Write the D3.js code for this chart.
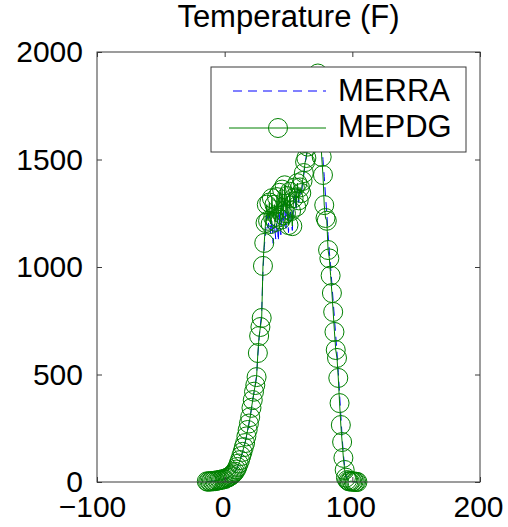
<!DOCTYPE html>
<html>
<head>
<meta charset="utf-8">
<script src="https://cdn.jsdelivr.net/npm/d3@7"></script>
<style>
  html, body { margin: 0; padding: 0; background: #fff; }
  svg { display: block; }
  text { font-family: "Liberation Sans", Arial, Helvetica, sans-serif; fill: #000; }
</style>
</head>
<body>
<svg id="chart" width="508" height="527"></svg>
<script>
// Temperature bins (°F)
const temps = d3.range(-14, 105);

// Hour counts per temperature bin, MEPDG climate file
const mepdg = [
  3, 1, 4, 2, 5, 3, 6, 4, 8, 7, 10, 9, 12, 14,            // -14 .. -1
  13, 17, 20, 22, 26, 30, 35, 41, 48, 58,                 // 0 .. 9
  70, 86, 102, 121, 140, 162, 181, 212, 242, 272,         // 10 .. 19
  302, 345, 381, 420, 451, 488, 600, 679, 721, 763,       // 20 .. 29
  1005, 1112, 1205, 1290, 1215, 1300, 1200, 1320, 1230, 1290, // 30 .. 39
  1210, 1325, 1230, 1345, 1220, 1360, 1240, 1380, 1250, 1330, // 40 .. 49
  1195, 1350, 1260, 1190, 1320, 1370, 1280, 1390, 1310, 1370, // 50 .. 59
  1344, 1400, 1437, 1488, 1507, 1560, 1620, 1680, 1740, 1790, // 60 .. 69
  1840, 1880, 1870, 1900, 1760, 1640, 1512, 1428, 1288, 1228, // 70 .. 79
  1215, 1079, 1040, 960, 879, 791, 698, 614, 577, 484,    // 80 .. 89
  367, 265, 186, 112, 56, 20, 9, 4, 2, 5,                 // 90 .. 99
  1, 3, 0, 1, 0                                           // 100 .. 104
];

// Hour counts per temperature bin, MERRA reanalysis
const merra = [
  2, 2, 3, 3, 4, 4, 5, 5, 7, 8, 9, 10, 11, 13,            // -14 .. -1
  14, 16, 19, 23, 25, 29, 34, 40, 47, 56,                 // 0 .. 9
  68, 84, 100, 118, 138, 160, 185, 208, 238, 270,         // 10 .. 19
  305, 340, 385, 415, 455, 495, 590, 670, 730, 790,       // 20 .. 29
  980, 1090, 1160, 1240, 1180, 1250, 1150, 1220, 1110, 1200, // 30 .. 39
  1130, 1240, 1120, 1260, 1150, 1290, 1200, 1310, 1180, 1280, // 40 .. 49
  1160, 1300, 1220, 1170, 1290, 1340, 1260, 1370, 1300, 1360, // 50 .. 59
  1330, 1390, 1430, 1480, 1520, 1570, 1630, 1690, 1740, 1790, // 60 .. 69
  1830, 1860, 1880, 1870, 1790, 1690, 1600, 1500, 1420, 1330, // 70 .. 79
  1250, 1150, 1070, 1000, 920, 840, 760, 680, 600, 510,   // 80 .. 89
  410, 310, 210, 130, 70, 30, 12, 5, 3, 2,                // 90 .. 99
  1, 1, 0, 0, 0                                           // 100 .. 104
];

const xTicks = [-100, 0, 100, 200];
const yTicks = [0, 500, 1000, 1500, 2000];
const seriesNames = ["MERRA", "MEPDG"];
const titleText = "Temperature (F)";

const svg = d3.select("#chart");
const box = { left: 97, right: 480, top: 52, bottom: 482 };
const fontSize = 30;
const frameColor = "#3a3a3a";
const green = "#008000";
const blue = "#0000ff";

const x = d3.scaleLinear().domain([-100, 200]).range([box.left, box.right]);
const y = d3.scaleLinear().domain([0, 2000]).range([box.bottom, box.top]);

const mepdgPts = temps.map((t, i) => [t, mepdg[i]]);
const merraPts = temps.map((t, i) => [t, merra[i]]);

const plot = svg.append("g");
const line = d3.line().x(d => x(d[0])).y(d => y(d[1]));

// MERRA: blue dashed line
plot.append("path")
  .datum(merraPts)
  .attr("d", line)
  .attr("fill", "none")
  .attr("stroke", blue)
  .attr("stroke-width", 1)
  .attr("stroke-dasharray", "9,6");

// MEPDG: green line with open circle markers
plot.append("path")
  .datum(mepdgPts)
  .attr("d", line)
  .attr("fill", "none")
  .attr("stroke", green)
  .attr("stroke-width", 1);

plot.append("g")
  .selectAll("circle")
  .data(mepdgPts)
  .join("circle")
  .attr("cx", d => x(d[0]))
  .attr("cy", d => y(d[1]))
  .attr("r", 9.5)
  .attr("fill", "none")
  .attr("stroke", green)
  .attr("stroke-width", 1);

// Frame box
svg.append("rect")
  .attr("x", box.left).attr("y", box.top)
  .attr("width", box.right - box.left).attr("height", box.bottom - box.top)
  .attr("fill", "none")
  .attr("stroke", frameColor)
  .attr("stroke-width", 1);

// Axes with inward ticks on all four sides
function styleAxis(g) {
  g.select(".domain").remove();
  g.selectAll(".tick line").attr("stroke", frameColor);
  g.selectAll(".tick text")
    .style("font-size", fontSize + "px")
    .style("font-family", '"Liberation Sans", Arial, sans-serif')
    .attr("fill", "#000");
}

svg.append("g")
  .attr("transform", `translate(0,${box.bottom})`)
  .call(d3.axisBottom(x).tickValues(xTicks).tickFormat(d3.format("d")).tickSize(-5).tickPadding(14))
  .call(styleAxis)
  .call(g => g.selectAll(".tick text").attr("dx", d => d < 0 ? -5 : -2));

svg.append("g")
  .attr("transform", `translate(${box.left},0)`)
  .call(d3.axisLeft(y).tickValues(yTicks).tickFormat(d3.format("d")).tickSize(-5).tickPadding(14))
  .call(styleAxis);

svg.append("g")
  .attr("transform", `translate(0,${box.top})`)
  .call(d3.axisTop(x).tickValues(xTicks).tickFormat("").tickSize(-5))
  .call(styleAxis);

svg.append("g")
  .attr("transform", `translate(${box.right},0)`)
  .call(d3.axisRight(y).tickValues(yTicks).tickFormat("").tickSize(-5))
  .call(styleAxis);

// Title
svg.append("text")
  .attr("x", (box.left + box.right) / 2)
  .attr("y", 27)
  .attr("text-anchor", "middle")
  .style("font-size", "31px")
  .text(titleText);

// Legend
const legend = svg.append("g");
legend.append("rect")
  .attr("x", 211).attr("y", 67)
  .attr("width", 255).attr("height", 85)
  .attr("fill", "#fff")
  .attr("stroke", frameColor)
  .attr("stroke-width", 1);

legend.append("line")
  .attr("x1", 233).attr("x2", 326).attr("y1", 91).attr("y2", 91)
  .attr("stroke", blue).attr("stroke-width", 1).attr("stroke-dasharray", "9,6");
legend.append("line")
  .attr("x1", 229).attr("x2", 326).attr("y1", 128).attr("y2", 128)
  .attr("stroke", green).attr("stroke-width", 1);
legend.append("circle")
  .attr("cx", 278).attr("cy", 128).attr("r", 9.5)
  .attr("fill", "none").attr("stroke", green).attr("stroke-width", 1);

legend.selectAll("text.entry")
  .data(seriesNames)
  .join("text")
  .attr("class", "entry")
  .attr("x", 338)
  .attr("y", (d, i) => i === 0 ? 101 : 137)
  .style("font-size", "31px")
  .text(d => d);
</script>
</body>
</html>
